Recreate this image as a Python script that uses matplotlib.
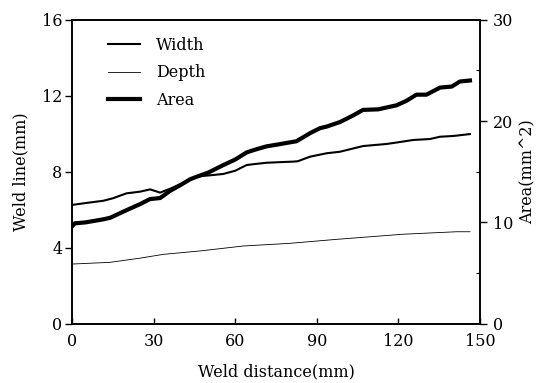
import matplotlib
matplotlib.use("Agg")
import matplotlib.pyplot as plt
from matplotlib.ticker import MultipleLocator

plt.rcParams['font.family'] = ['DejaVu Serif']

width_x = [0, 5, 11.5, 15, 20, 25, 28.7, 32.4, 36, 40, 43.4, 45.8, 50, 55.6, 60,
           64.2, 67, 71.5, 76, 81.3, 83, 87.5, 93.6, 98.5, 107, 115.7, 120, 125.5,
           131.6, 135.3, 140.2, 146.3]
width_y = [6.25, 6.35, 6.47, 6.6, 6.86, 6.95, 7.07, 6.9, 7.1, 7.35, 7.6, 7.75, 7.8,
           7.88, 8.05, 8.35, 8.4, 8.47, 8.5, 8.53, 8.55, 8.79, 8.97, 9.05, 9.35, 9.46,
           9.55, 9.67, 9.72, 9.84, 9.88, 9.98]

depth_x = [0, 14, 25, 33.6, 47.1, 63, 75.2, 80.1, 97.3, 110, 121.8, 141.4, 146.3]
depth_y = [3.14, 3.23, 3.45, 3.65, 3.83, 4.09, 4.19, 4.23, 4.44, 4.58, 4.71, 4.84, 4.84]

area_x = [0, 1, 5, 11.5, 14, 20, 25, 28.7, 32.4, 36, 40, 43.4, 45.8, 50, 55.6, 60,
          64.2, 67, 71.5, 76, 81.3, 82.5, 87.5, 91.2, 93.6, 98.5, 103, 107, 112.5,
          119.3, 123, 126.6, 130.3, 135.3, 139.6, 142.6, 146.3]
area_y = [9.6, 9.9, 10.0, 10.3, 10.45, 11.2, 11.8, 12.3, 12.4, 13.1, 13.7, 14.25,
          14.5, 14.9, 15.65, 16.2, 16.9, 17.15, 17.5, 17.7, 17.95, 18.0, 18.8, 19.3,
          19.45, 19.9, 20.5, 21.1, 21.15, 21.55, 22.0, 22.6, 22.6, 23.3, 23.4, 23.9, 24.0]

x_ticks = [0, 30, 60, 90, 120, 150]
left_ticks = [0, 4, 8, 12, 16]
right_ticks = [0, 10, 20, 30]

fig = plt.figure(figsize=(5.43, 3.83), dpi=100)
ax = fig.add_axes([0.1326, 0.1548, 0.7514, 0.7938])
ax2 = ax.twinx()

l1, = ax.plot(width_x, width_y, color='black', lw=1.5, label='Width')
l2, = ax.plot(depth_x, depth_y, color='black', lw=0.6, label='Depth')
l3, = ax2.plot(area_x, area_y, color='black', lw=3.0, label='Area')

ax.set_xlim(0, 150)
ax.set_ylim(0, 16)
ax2.set_ylim(0, 30)
ax.set_xticks(x_ticks)
ax.set_yticks(left_ticks)
ax2.set_yticks(right_ticks)
ax2.yaxis.set_minor_locator(MultipleLocator(5))

fs = 11.5
ax.tick_params(axis='y', direction='out', length=5, width=1, labelsize=fs, pad=2)
ax.tick_params(axis='x', direction='in', length=4, width=1, labelsize=fs, pad=7)
ax2.tick_params(axis='y', which='major', direction='out', length=5, width=1, labelsize=fs, pad=4)
ax2.tick_params(axis='y', which='minor', direction='in', length=3, width=0.8)

for a in (ax, ax2):
    for s in a.spines.values():
        s.set_linewidth(1.2)

ax.set_xlabel('Weld distance(mm)', fontsize=fs, labelpad=9)
ax.set_ylabel('Weld line(mm)', fontsize=fs, labelpad=9)
ax2.set_ylabel('Area(mm^2)', fontsize=fs, labelpad=5)

ax.legend(handles=[l1, l2, l3], loc='upper left', bbox_to_anchor=(0.065, 0.975),
          frameon=False, fontsize=fs, handlelength=2.0, handletextpad=1.0,
          labelspacing=0.65, borderaxespad=0.2)

fig.savefig('out.png', dpi=100)
